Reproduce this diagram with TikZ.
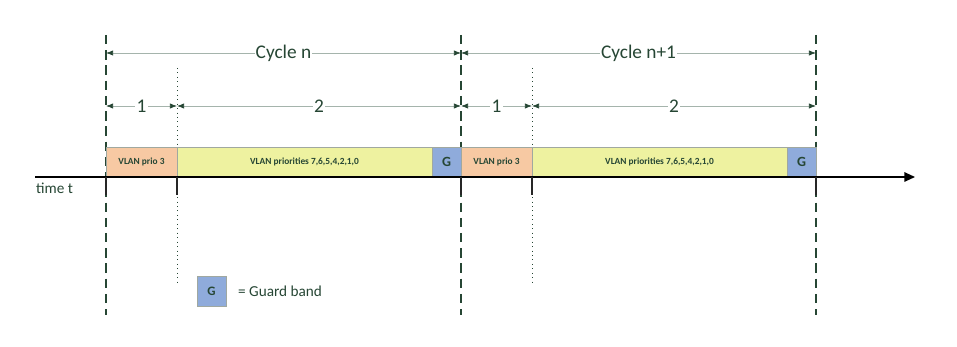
\documentclass[tikz,border=0pt]{standalone}
\usepackage{fontspec}
\setmainfont{Carlito}
\usepackage{tikz}
\usepackage{xcolor}
\usetikzlibrary{arrows.meta,positioning}
\definecolor{textgreen}{RGB}{38,70,52}
\definecolor{dimline}{RGB}{165,180,172}
\definecolor{boxorange}{RGB}{247,201,163}
\definecolor{boxyellow}{RGB}{238,242,160}
\definecolor{boxblue}{RGB}{143,171,219}
\definecolor{boxedge}{RGB}{160,168,160}

\tikzset{
  slot/.style={draw=boxedge,line width=0.5pt,inner sep=0pt,outer sep=0pt,minimum height=0.9cm,
    text=textgreen,font=\fontsize{8}{9}\selectfont\bfseries},
  guard/.style={slot,fill=boxblue,minimum width=0.87cm,font=\fontsize{12}{14}\selectfont\bfseries},
  dimarrow/.style={draw=dimline,line width=0.6pt,
    {Latex[length=6pt,width=4.5pt,color=textgreen]}-{Latex[length=6pt,width=4.5pt,color=textgreen]}},
  dimlabel/.style={fill=white,inner sep=1pt,text=textgreen,font=\fontsize{16.5}{18}\selectfont},
  cycleline/.style={draw=textgreen,dash pattern=on 8pt off 5pt,line width=0.9pt},
  slotline/.style={draw=textgreen,dash pattern=on 0.8pt off 3pt,line width=0.8pt},
  tick/.style={draw=black!85,line width=1pt}
}

\begin{document}
\begin{tikzpicture}[x=0.03cm,y=-0.03cm]
\useasboundingbox (0,0) rectangle (957,347);

% cycle borders and slot borders
\foreach \x/\n in {106/b0,461/b1,816/b2}{
  \coordinate (\n t) at (\x,35);
  \coordinate (\n b) at (\x,315);
  \draw[cycleline] (\n t) -- (\n b);
}
\foreach \x/\n in {177/s0,532/s1}{
  \coordinate (\n t) at (\x,68);
  \coordinate (\n b) at (\x,285);
  \draw[slotline] (\n t) -- (\n b);
}

% time slots
\node[slot,fill=boxorange,minimum width=2.13cm,anchor=south west] (p3a) at (106,177) {VLAN prio 3};
\node[slot,fill=boxyellow,minimum width=7.65cm,right=0pt of p3a] (pra) {VLAN priorities 7,6,5,4,2,1,0};
\node[guard,right=0pt of pra] (ga) {G};
\node[slot,fill=boxorange,minimum width=2.13cm,right=0pt of ga] (p3b) {VLAN prio 3};
\node[slot,fill=boxyellow,minimum width=7.65cm,right=0pt of p3b] (prb) {VLAN priorities 7,6,5,4,2,1,0};
\node[guard,right=0pt of prb] (gb) {G};

% time axis
\coordinate (tstart) at (35,177);
\coordinate (tend) at (915,177);
\draw[line width=1.2pt,-{Triangle[length=9pt,width=8pt]}] (tstart) -- (tend);
\node[anchor=west,text=textgreen,font=\fontsize{13}{15}\selectfont] (tlabel) at (32,188) {time t};
\foreach \x in {106,177,461,532,816}
  \draw[tick] (\x,177) -- (\x,195);

% dimensions
\coordinate (d0) at (106,53);
\coordinate (d1) at (461,53);
\coordinate (d2) at (816,53);
\coordinate (e0) at (106,106);
\coordinate (e1) at (177,106);
\coordinate (e2) at (461,106);
\coordinate (e3) at (532,106);
\coordinate (e4) at (816,106);
\draw[dimarrow] (d0) -- node[dimlabel] {Cycle n} (d1);
\draw[dimarrow] (d1) -- node[dimlabel] {Cycle n+1} (d2);
\draw[dimarrow] (e0) -- node[dimlabel] {1} (e1);
\draw[dimarrow] (e1) -- node[dimlabel] {2} (e2);
\draw[dimarrow] (e2) -- node[dimlabel] {1} (e3);
\draw[dimarrow] (e3) -- node[dimlabel] {2} (e4);

% legend
\node[guard,minimum height=0.9cm,font=\fontsize{11}{13}\selectfont\bfseries] (gkey) at (211.5,291) {G};
\node[anchor=west,text=textgreen,font=\fontsize{13}{15}\selectfont] (gtext) at (234,291) {= Guard band};
\end{tikzpicture}
\end{document}
